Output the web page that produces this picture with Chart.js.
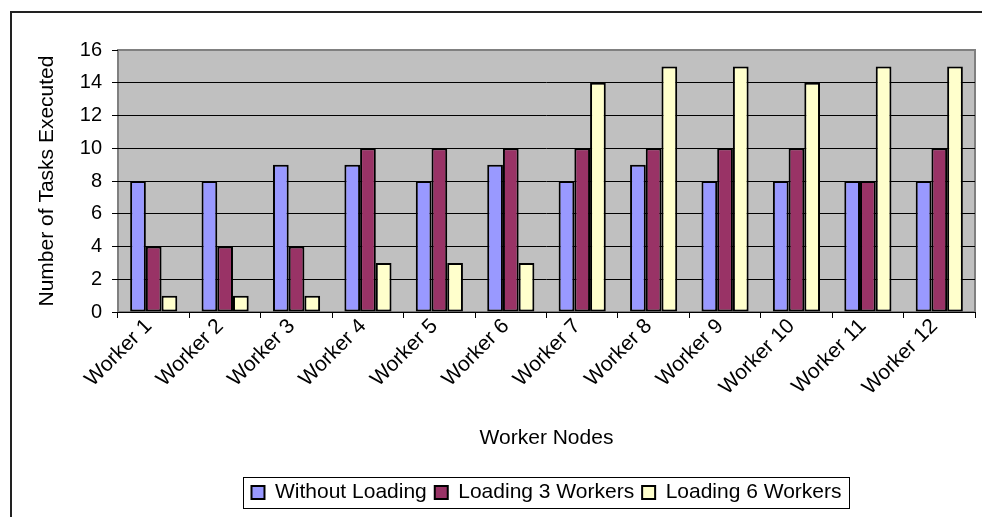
<!DOCTYPE html>
<html>
<head>
<meta charset="utf-8">
<script src="https://cdn.jsdelivr.net/npm/chart.js@4.4.1/dist/chart.umd.min.js"></script>
<style>
  body { margin: 0; background: #fff; overflow: hidden; }
  #frame { position: absolute; left: 10px; top: 11px; width: 2000px; height: 2000px;
           border-left: 2px solid #222; border-top: 2px solid #222; }
  #wrap { position: absolute; left: 0; top: 0; width: 982px; height: 517px; }
</style>
</head>
<body>
<div id="frame"></div>
<div id="wrap"><canvas id="myChart"></canvas></div>
<script>
const ctx = document.getElementById('myChart');

const workers = ['Worker 1','Worker 2','Worker 3','Worker 4','Worker 5','Worker 6',
                 'Worker 7','Worker 8','Worker 9','Worker 10','Worker 11','Worker 12'];
const withoutLoading = [8, 8, 9, 9, 8, 9, 8, 9, 8, 8, 8, 8];
const loading3 = [4, 4, 4, 10, 10, 10, 10, 10, 10, 10, 8, 10];
const loading6 = [1, 1, 1, 3, 3, 3, 14, 15, 15, 14, 15, 15];
const yTicks = [0, 2, 4, 6, 8, 10, 12, 14, 16];

const font = 'Liberation Sans, Arial, sans-serif';

// gray plot area with a gray frame
const plotBg = {
  id: 'plotBg',
  beforeDraw(chart) {
    const a = chart.chartArea;
    const c = chart.ctx;
    c.save();
    c.fillStyle = '#c0c0c0';
    c.fillRect(a.left, a.top, a.right - a.left, a.bottom - a.top);
    c.strokeStyle = '#808080';
    c.lineWidth = 2;
    c.strokeRect(a.left, a.top, a.right - a.left, a.bottom - a.top);
    c.restore();
  }
};

// box round the legend
const legendBox = {
  id: 'legendBox',
  afterDraw(chart) {
    const boxes = chart.legend.legendHitBoxes;
    if (!boxes || !boxes.length) return;
    let l = Infinity, r = -Infinity, t = Infinity, b = -Infinity;
    boxes.forEach(h => {
      l = Math.min(l, h.left); r = Math.max(r, h.left + h.width);
      t = Math.min(t, h.top); b = Math.max(b, h.top + h.height);
    });
    const c = chart.ctx;
    c.save();
    c.strokeStyle = '#000';
    c.lineWidth = 1;
    c.strokeRect(Math.round(l - 8) + 0.5, Math.round(t - 5) + 0.5, Math.round(r - l + 16), Math.round(b - t + 10));
    c.restore();
  }
};

const myChart = new Chart(ctx, {
  type: 'bar',
  data: {
    labels: workers,
    datasets: [{
      label: 'Without Loading',
      data: withoutLoading,
      backgroundColor: '#9999ff',
      borderColor: '#000',
      borderWidth: 2,
      borderSkipped: false
    }, {
      label: 'Loading 3 Workers',
      data: loading3,
      backgroundColor: '#993366',
      borderColor: '#000',
      borderWidth: 2,
      borderSkipped: false
    }, {
      label: 'Loading 6 Workers',
      data: loading6,
      backgroundColor: '#ffffcc',
      borderColor: '#000',
      borderWidth: 2,
      borderSkipped: false
    }]
  },
  options: {
    responsive: true,
    maintainAspectRatio: false,
    animation: false,
    datasets: { bar: { categoryPercentage: 0.66, barPercentage: 1 } },
    layout: { padding: { top: 50, right: 7, left: 0, bottom: 4 } },
    plugins: {
      tooltip: { enabled: false },
      legend: {
        position: 'bottom',
        fullSize: false,
        labels: {
          boxWidth: 13,
          boxHeight: 13,
          padding: 8,
          color: '#000',
          font: { family: font, size: 21 }
        }
      }
    },
    scales: {
      x: {
        afterFit(scale) { scale.height = 162; },
        grid: { drawOnChartArea: false, offset: true, tickLength: 6, color: '#000' },
        border: { display: false },
        ticks: { minRotation: 45, maxRotation: 45, padding: -4, labelOffset: -5, color: '#000',
                 font: { family: font, size: 21 } },
        title: { display: true, text: 'Worker Nodes', color: '#000',
                 font: { family: font, size: 21 }, padding: { top: 0, bottom: 23 } }
      },
      y: {
        min: 0,
        max: 16,
        afterFit(scale) { scale.width = 118; },
        afterBuildTicks(scale) { scale.ticks = yTicks.map(v => ({ value: v })); },
        grid: {
          color: c => c.tick && c.tick.value === 16 ? 'rgba(0,0,0,0)' : '#000',
          tickColor: '#000',
          tickLength: 6
        },
        border: { display: false },
        ticks: { padding: 10, color: '#000', font: { family: font, size: 20 } },
        title: { display: true, text: 'Number of Tasks Executed', color: '#000',
                 font: { family: font, size: 21 }, padding: { top: 35 } }
      }
    }
  },
  plugins: [plotBg, legendBox]
});
</script>
</body>
</html>
